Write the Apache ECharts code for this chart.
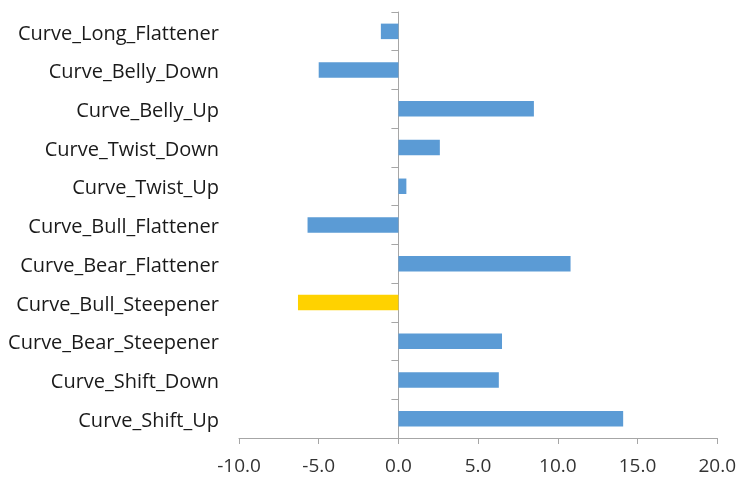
<!DOCTYPE html>
<html>
<head>
<meta charset="utf-8">
<script src="https://cdn.jsdelivr.net/npm/echarts@6/dist/echarts.min.js"></script>
<style>
  html, body { margin: 0; padding: 0; background: #ffffff; }
  #chart { width: 739px; height: 480px; }
</style>
</head>
<body>
<div id="chart"></div>
<script>
// Scenario names, listed bottom to top as they appear on the category axis
const scenarios = [
  'Curve_Shift_Up',
  'Curve_Shift_Down',
  'Curve_Bear_Steepener',
  'Curve_Bull_Steepener',
  'Curve_Bear_Flattener',
  'Curve_Bull_Flattener',
  'Curve_Twist_Up',
  'Curve_Twist_Down',
  'Curve_Belly_Up',
  'Curve_Belly_Down',
  'Curve_Long_Flattener'
];

// Impact per scenario
const impact = [14.1, 6.3, 6.5, -6.3, 10.8, -5.7, 0.5, 2.6, 8.5, -5.0, -1.1];

// Scenario shown in the highlight colour
const highlighted = 'Curve_Bull_Steepener';

// Value axis range and step
const axisMin = -10;
const axisMax = 20;
const axisStep = 5;

const BLUE = '#5b9bd5';
const GOLD = '#ffd200';
const AXIS_GREY = '#a6a6a6';
const FONT = '"Open Sans", "Noto Sans", sans-serif';

const chart = echarts.init(document.getElementById('chart'), null, { renderer: 'canvas' });

chart.setOption({
  animation: false,
  backgroundColor: '#ffffff',
  grid: { left: 239, right: 21, top: 12, bottom: 42, containLabel: false },
  xAxis: {
    type: 'value',
    min: axisMin,
    max: axisMax,
    interval: axisStep,
    splitLine: { show: false },
    axisLine: { show: true, lineStyle: { color: AXIS_GREY, width: 1 } },
    axisTick: { show: true, length: 6, lineStyle: { color: AXIS_GREY } },
    axisLabel: {
      margin: 19,
      color: '#333333',
      fontFamily: FONT,
      fontSize: 19,
      formatter: v => v.toFixed(1)
    }
  },
  yAxis: [
    {
      // category labels at the left edge of the plot; a thin spacer line
      // above each name sets it a little lower than the band centre
      type: 'category',
      data: scenarios,
      position: 'left',
      axisLine: { show: false, onZero: false },
      axisTick: { show: false },
      axisLabel: {
        margin: 20,
        color: '#1a1a1a',
        fontFamily: FONT,
        fontSize: 20,
        formatter: name => '{gap| }\n{t|' + name + '}',
        rich: {
          gap: { lineHeight: 5, fontSize: 2 },
          t: { lineHeight: 24, fontSize: 20, fontFamily: FONT, color: '#1a1a1a' }
        }
      }
    },
    {
      // axis line and ticks crossing at zero
      type: 'category',
      data: scenarios,
      position: 'left',
      axisLine: { show: true, onZero: true, lineStyle: { color: AXIS_GREY, width: 1 } },
      axisTick: { show: true, length: 7, lineStyle: { color: AXIS_GREY } },
      axisLabel: { show: false }
    }
  ],
  series: [
    {
      type: 'bar',
      yAxisIndex: 0,
      barCategoryGap: '60%',
      data: scenarios.map((name, i) => ({
        value: impact[i],
        itemStyle: { color: name === highlighted ? GOLD : BLUE }
      })),
      z: 1
    }
  ]
});
</script>
</body>
</html>
